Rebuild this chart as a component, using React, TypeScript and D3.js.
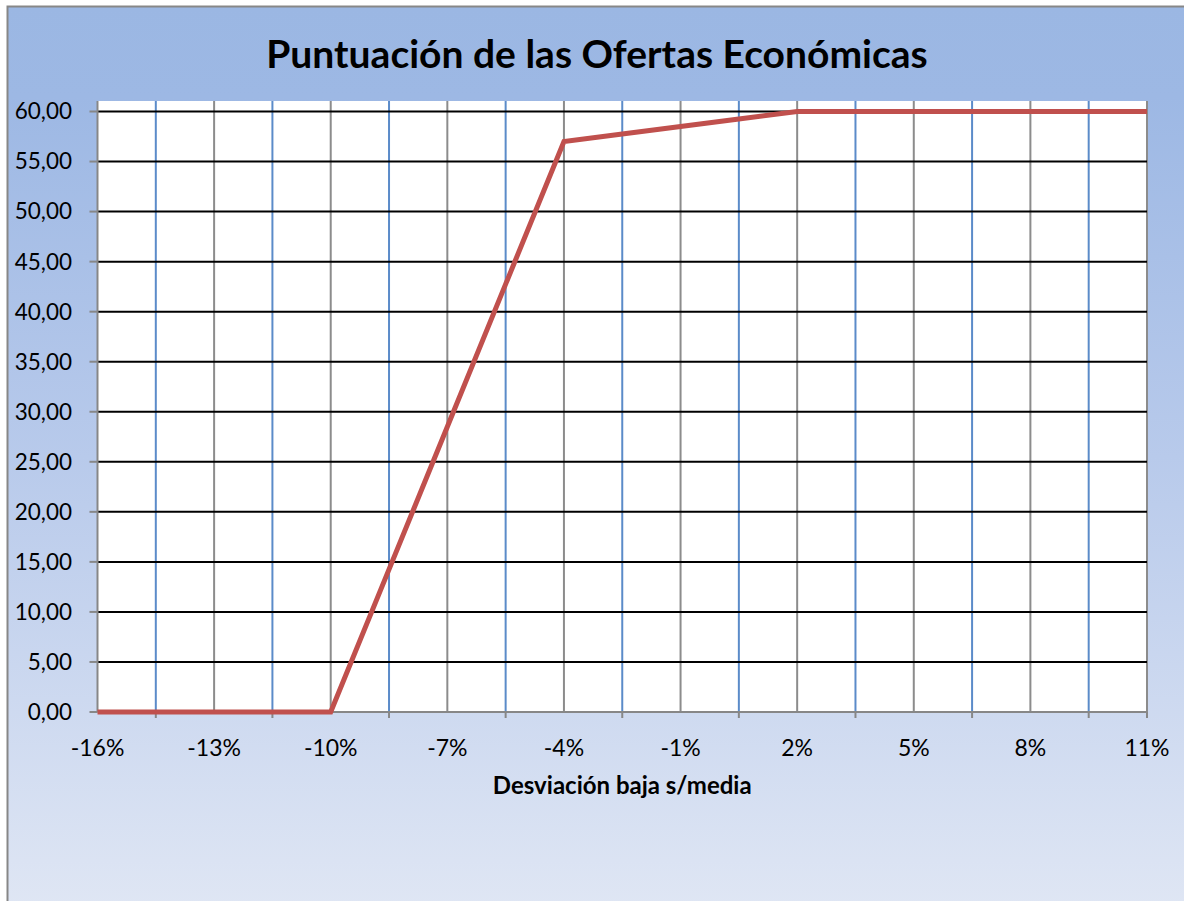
import { useMemo } from "react";
import * as d3 from "d3";

// deviation from mean (%) and score, one point every 1.5%
const deviations = [
  -16, -14.5, -13, -11.5, -10, -8.5, -7, -5.5, -4, -2.5, -1, 0.5, 2, 3.5, 5, 6.5, 8, 9.5, 11,
];
const scores = [
  0, 0, 0, 0, 0, 14.25, 28.5, 42.75, 57, 57.75, 58.5, 59.25, 60, 60, 60, 60, 60, 60, 60,
];
const xLabels = [-16, -13, -10, -7, -4, -1, 2, 5, 8, 11];
const yTicks = [0, 5, 10, 15, 20, 25, 30, 35, 40, 45, 50, 55, 60];

const title = "Puntuación de las Ofertas Económicas";
const xTitle = "Desviación baja s/media";

const W = 1184;
const H = 901;
const font = "Lato, 'Open Sans', sans-serif";

const App = () => {
  const margin = { left: 97.5, right: 1147, top: 101, bottom: 712 };

  const x = useMemo(
    () => d3.scaleLinear().domain([-16, 11]).range([margin.left, margin.right]),
    []
  );
  const y = useMemo(
    () => d3.scaleLinear().domain([0, 61.05]).range([margin.bottom, margin.top]),
    []
  );

  const line = d3
    .line<number>()
    .x((_, i) => x(deviations[i]))
    .y((d) => y(d));

  // minor positions between labels (blue gridlines + tick marks)
  const midTicks = xLabels.slice(0, -1).map((v) => v + 1.5);

  return (
    <svg
      width={W}
      height={H}
      style={{ position: "absolute", left: 0, top: 0 }}
      fontFamily={font}
    >
      <defs>
        <linearGradient id="bg" x1="0" y1="0" x2="0" y2="1">
          <stop offset="0" stopColor="#9bb7e3" />
          <stop offset="0.1" stopColor="#9db8e4" />
          <stop offset="0.5" stopColor="#b8caeb" />
          <stop offset="1" stopColor="#dfe6f4" />
        </linearGradient>
      </defs>
      <rect x={7.5} y={6.5} width={W} height={H} fill="url(#bg)" stroke="#878787" strokeWidth={2} />

      <text
        x={597}
        y={68}
        textAnchor="middle"
        fontSize={39}
        fontWeight="bold"
        fill="#000"
      >
        {title}
      </text>

      <rect
        x={margin.left}
        y={margin.top}
        width={margin.right - margin.left}
        height={margin.bottom - margin.top}
        fill="#fff"
      />

      {/* vertical gridlines */}
      {xLabels.slice(1).map((v) => (
        <line key={"g" + v} x1={x(v)} x2={x(v)} y1={margin.top} y2={margin.bottom} stroke="#8c8c8c" strokeWidth={2} />
      ))}
      {midTicks.map((v) => (
        <line key={"b" + v} x1={x(v)} x2={x(v)} y1={margin.top} y2={margin.bottom} stroke="#5b8bc9" strokeWidth={2} />
      ))}

      {/* horizontal gridlines */}
      {yTicks.slice(1).map((v) => (
        <line key={"h" + v} x1={margin.left} x2={margin.right} y1={y(v)} y2={y(v)} stroke="#000" strokeWidth={2} />
      ))}

      {/* axes */}
      <line x1={margin.left} x2={margin.left} y1={margin.top} y2={margin.bottom} stroke="#878787" strokeWidth={2} />
      <line x1={margin.left} x2={margin.right} y1={margin.bottom} y2={margin.bottom} stroke="#878787" strokeWidth={2} />
      {yTicks.map((v) => (
        <g key={"y" + v}>
          <line x1={margin.left - 8} x2={margin.left} y1={y(v)} y2={y(v)} stroke="#878787" strokeWidth={2} />
          <text x={72} y={y(v)} dy="0.35em" textAnchor="end" fontSize={22.5} fill="#000">
            {d3.format(".2f")(v).replace(".", ",")}
          </text>
        </g>
      ))}
      {[...midTicks, 11].map((v) => (
        <line key={"t" + v} x1={x(v)} x2={x(v)} y1={margin.bottom} y2={margin.bottom + 6} stroke="#878787" strokeWidth={2} />
      ))}
      {xLabels.map((v) => (
        <text key={"x" + v} x={x(v)} y={748} dy="0.35em" textAnchor="middle" fontSize={23} fill="#000">
          {`${v}%`}
        </text>
      ))}
      <text
        x={(margin.left + margin.right) / 2}
        y={794}
        textAnchor="middle"
        fontSize={24}
        fontWeight="bold"
        fill="#000"
      >
        {xTitle}
      </text>

      <path d={line(scores) || ""} fill="none" stroke="#c0504d" strokeWidth={5} strokeLinejoin="miter" />
    </svg>
  );
};

export default App;
